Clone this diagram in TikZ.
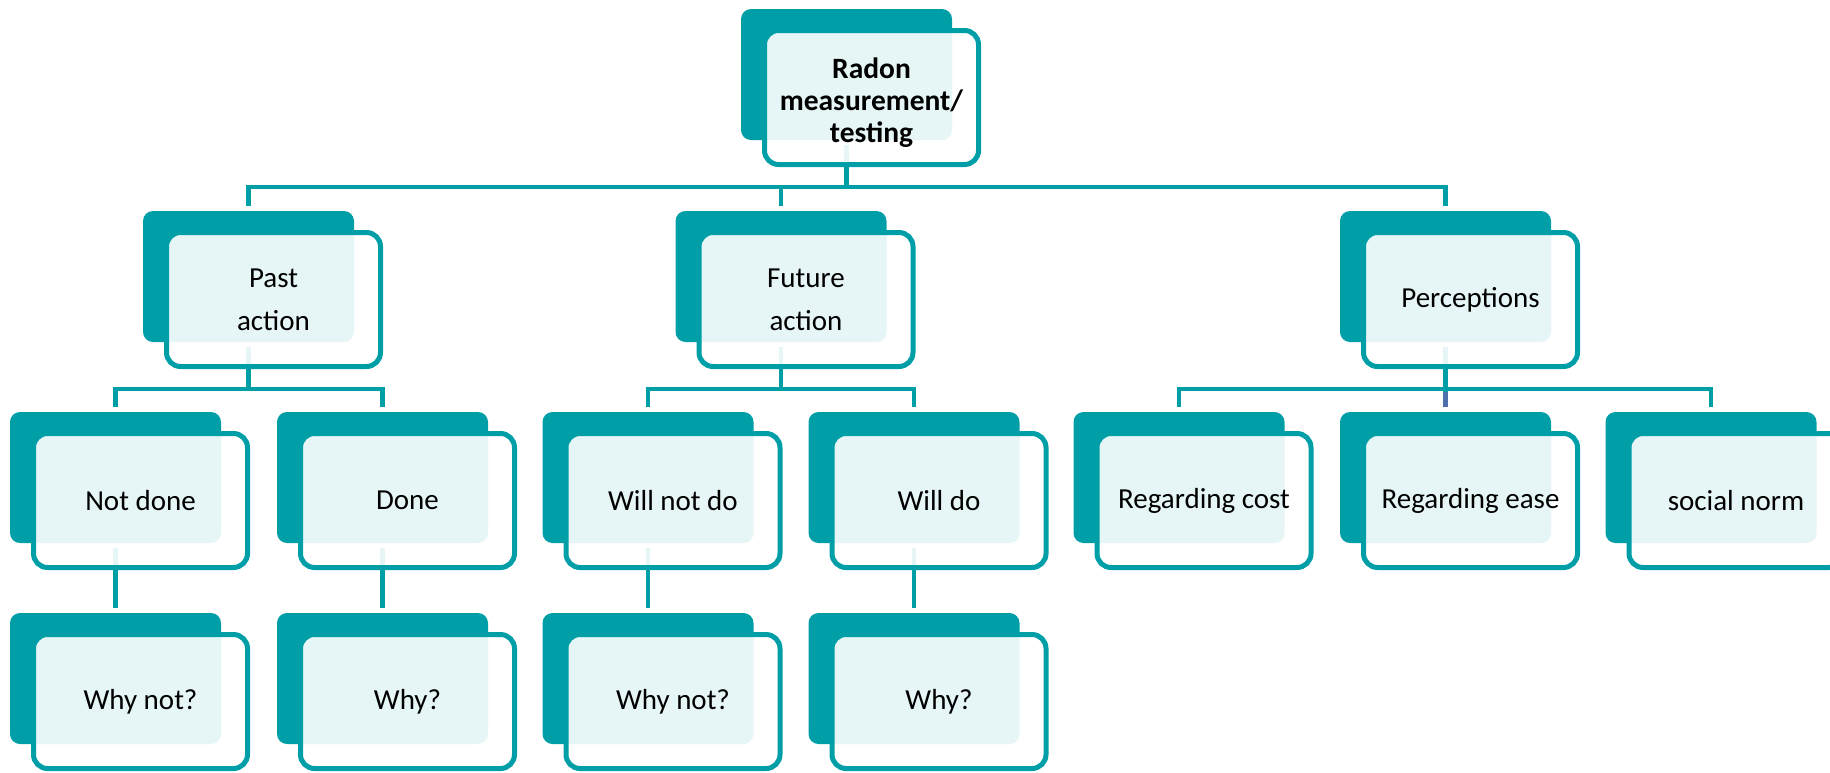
\documentclass[tikz,border=0pt]{standalone}
\usepackage{fontspec}
\setmainfont{Carlito}
\usetikzlibrary{positioning}

\definecolor{tealmain}{RGB}{0,158,166}
\definecolor{slateblue}{RGB}{79,111,173}

\begin{document}
\begin{tikzpicture}[
    x=1pt, y=-1pt,
    back/.style={rectangle, fill=tealmain, rounded corners=10pt, minimum width=211pt, minimum height=131pt, inner sep=0pt},
    front/.style={rectangle, draw=tealmain, line width=5pt, fill=white, fill opacity=0.9, text opacity=1, rounded corners=14pt, minimum width=214pt, minimum height=134pt, text centered, align=center, font=\fontsize{29}{43}\selectfont},
    link/.style={draw=tealmain, line width=4.5pt, shorten <=5pt, shorten >=5pt}
]
    \useasboundingbox (0,0) rectangle (1830,772);

    % back boxes
    \node[back] (root) at (846.5,74.5) {};
    \node[back] (past) at (248.5,276.5) {};
    \node[back] (future) at (781,276.5) {};
    \node[back] (perc) at (1445.5,276.5) {};
    \node[back] (notdone) at (115.5,477.5) {};
    \node[back] (done) at (382.5,477.5) {};
    \node[back] (willnot) at (648,477.5) {};
    \node[back] (will) at (914,477.5) {};
    \node[back] (cost) at (1179,477.5) {};
    \node[back] (ease) at (1445.5,477.5) {};
    \node[back] (norm) at (1711,477.5) {};
    \node[back] (whynotA) at (115.5,678.5) {};
    \node[back] (whyA) at (382.5,678.5) {};
    \node[back] (whynotB) at (648,678.5) {};
    \node[back] (whyB) at (914,678.5) {};

    % connectors
    \draw[link] (root.south) -- ++(0,47) -| (past.north);
    \draw[link] (root.south) -- ++(0,47) -| (future.north);
    \draw[link] (root.south) -- ++(0,47) -| (perc.north);
    \draw[link] (past.south) -- ++(0,47) -| (notdone.north);
    \draw[link] (past.south) -- ++(0,47) -| (done.north);
    \draw[link] (future.south) -- ++(0,47) -| (willnot.north);
    \draw[link] (future.south) -- ++(0,47) -| (will.north);
    \draw[link] (perc.south) -- ++(0,47) -| (cost.north);
    \draw[link] (perc.south) -- (ease.north);
    \draw[link] (perc.south) -- ++(0,47) -| (norm.north);
    \draw[link, draw=slateblue, shorten <=0pt] ([yshift=20pt]ease.north) -- (ease.north);
    \draw[link] (notdone.south) -- (whynotA.north);
    \draw[link] (done.south) -- (whyA.north);
    \draw[link] (willnot.south) -- (whynotB.north);
    \draw[link] (will.south) -- (whyB.north);

    % front boxes
    \node[front, font=\fontsize{29.5}{32}\selectfont\bfseries] (rootF) at ([shift={(25,23)}]root.center) {\rule{0pt}{31pt}Radon\\measurement/\\testing};
    \node[front] (pastF) at ([shift={(25,23)}]past.center) {Past\\action};
    \node[front] (futureF) at ([shift={(25,23)}]future.center) {Future\\action};
    \node[front] (percF) at ([shift={(25,23)}]perc.center) {Perceptions};
    \node[front] (notdoneF) at ([shift={(25,23)}]notdone.center) {Not done};
    \node[front] (doneF) at ([shift={(25,23)}]done.center) {Done};
    \node[front] (willnotF) at ([shift={(25,23)}]willnot.center) {Will not do};
    \node[front] (willF) at ([shift={(25,23)}]will.center) {Will do};
    \node[front] (costF) at ([shift={(25,23)}]cost.center) {Regarding cost};
    \node[front] (easeF) at ([shift={(25,23)}]ease.center) {Regarding ease};
    \node[front] (normF) at ([shift={(25,23)}]norm.center) {social norm};
    \node[front] (whynotAF) at ([shift={(25,23)}]whynotA.center) {Why not?};
    \node[front] (whyAF) at ([shift={(25,23)}]whyA.center) {Why?};
    \node[front] (whynotBF) at ([shift={(25,23)}]whynotB.center) {Why not?};
    \node[front] (whyBF) at ([shift={(25,23)}]whyB.center) {Why?};
\end{tikzpicture}
\end{document}
